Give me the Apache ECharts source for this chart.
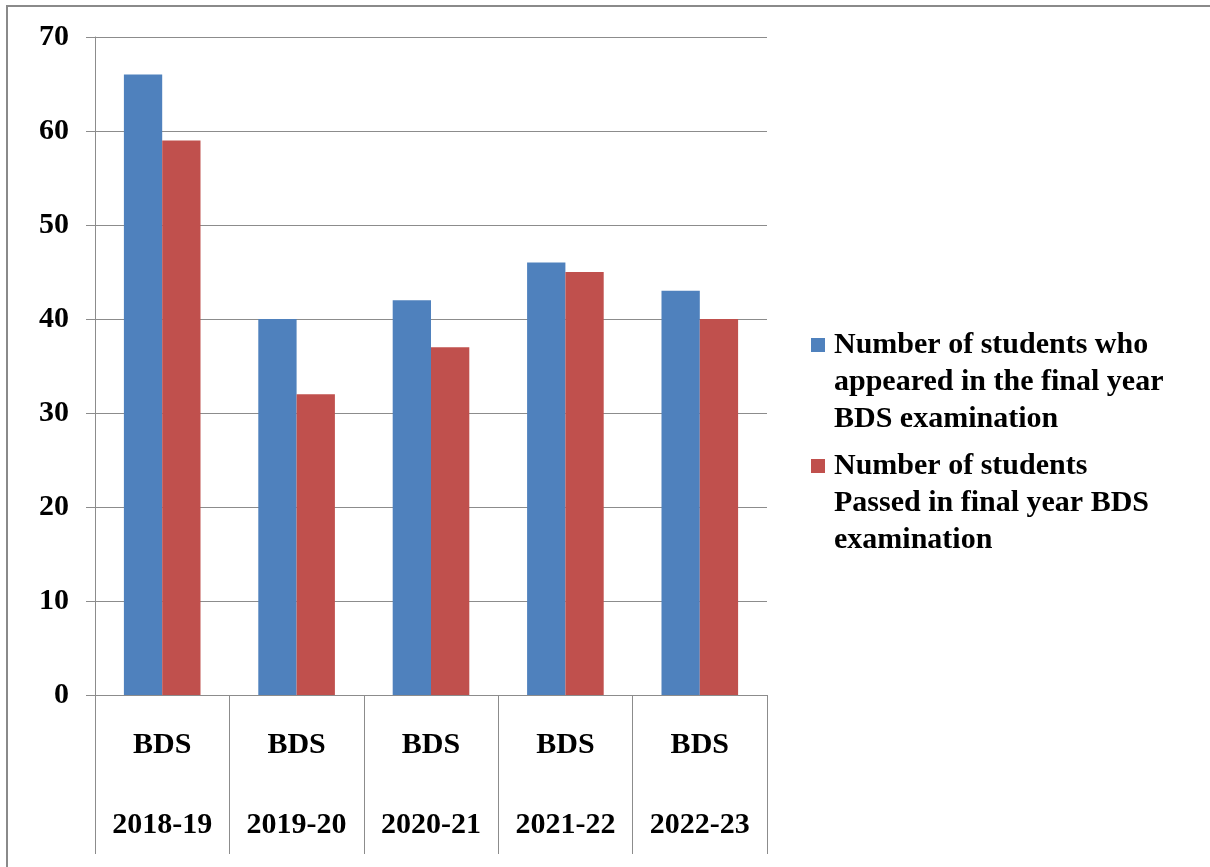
<!DOCTYPE html>
<html>
<head>
<meta charset="utf-8">
<script src="https://cdn.jsdelivr.net/npm/echarts@6/dist/echarts.min.js"></script>
<style>
    html, body { margin: 0; padding: 0; background: #fff; }
    .frame {
        position: absolute; left: 6px; top: 5px; width: 1300px; height: 900px;
        border-left: 2px solid #8a8a8a; border-top: 2px solid #8a8a8a;
    }
    #chart { position: absolute; left: 0; top: 0; width: 1210px; height: 867px; }
</style>
</head>
<body>
<div class="frame"></div>
<div id="chart"></div>
<script>
// 图表数据
const categories = ['BDS\n\n2018-19', 'BDS\n\n2019-20', 'BDS\n\n2020-21', 'BDS\n\n2021-22', 'BDS\n\n2022-23']
const appeared = [66, 40, 42, 46, 43]
const passed = [59, 32, 37, 45, 40]
const yTicks = [0, 10, 20, 30, 40, 50, 60, 70]
const seriesNames = [
    'Number of students who\nappeared in the final year\nBDS examination',
    'Number of students\nPassed in final year BDS\nexamination'
]

const font = '"Liberation Serif", "Times New Roman", serif'
const gray = '#8c8c8c'

// 图例方块对齐第一行文字，右侧留一点空隙
const legendIcon = 'path://M0,11h14v14h-14z M0,0h0.01v0.01h-0.01z M18,111h0.01v0.01h-0.01z'

const myChart = echarts.init(document.getElementById('chart'))
const options = {
    animation: false,
    grid: {
        left: 95,
        right: 443,
        top: 37,
        bottom: 172
    },
    legend: {
        orient: 'vertical',
        left: 811,
        top: 327,
        padding: 0,
        itemWidth: 18,
        itemHeight: 111,
        itemGap: 10,
        icon: legendIcon,
        textStyle: {
            fontFamily: font,
            fontWeight: 'bold',
            fontSize: 30,
            lineHeight: 37,
            color: '#000'
        },
        data: seriesNames
    },
    xAxis: {
        type: 'category',
        data: categories,
        axisLine: { lineStyle: { color: gray, width: 1 } },
        axisTick: { show: true, length: 159, lineStyle: { color: gray } },
        axisLabel: {
            margin: 30,
            verticalAlign: 'top',
            fontFamily: font,
            fontWeight: 'bold',
            fontSize: 30,
            lineHeight: 40,
            color: '#000'
        }
    },
    yAxis: {
        type: 'value',
        min: yTicks[0],
        max: yTicks[yTicks.length - 1],
        interval: 10,
        axisLine: { show: true, lineStyle: { color: gray } },
        axisTick: { show: true, length: 9, lineStyle: { color: gray } },
        splitLine: { lineStyle: { color: gray, width: 1 } },
        axisLabel: {
            margin: 26,
            fontFamily: font,
            fontWeight: 'bold',
            fontSize: 30,
            color: '#000'
        }
    },
    series: [
        {
            name: seriesNames[0],
            type: 'bar',
            data: appeared,
            barGap: 0,
            barCategoryGap: '43%',
            itemStyle: { color: '#4f81bd' }
        },
        {
            name: seriesNames[1],
            type: 'bar',
            data: passed,
            barGap: 0,
            barCategoryGap: '43%',
            itemStyle: { color: '#c0504d' }
        }
    ]
}
myChart.setOption(options)
</script>
</body>
</html>
